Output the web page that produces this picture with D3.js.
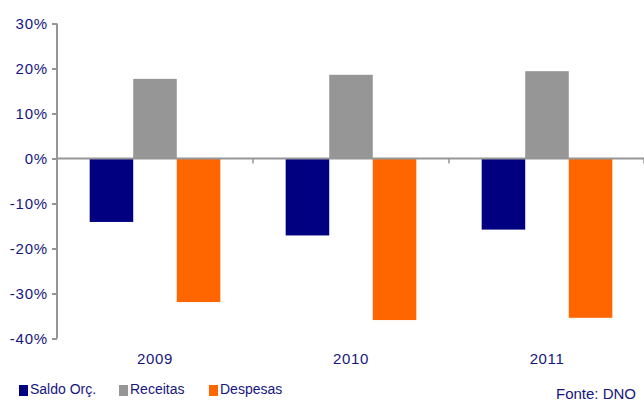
<!DOCTYPE html>
<html>
<head>
<meta charset="utf-8">
<script src="https://cdn.jsdelivr.net/npm/d3@7"></script>
<style>
  html, body { margin: 0; padding: 0; background: #fff; }
  svg { display: block; }
  text { font-family: "Liberation Sans", Arial, sans-serif; fill: #16167e; }
</style>
</head>
<body>
<svg id="chart" width="644" height="403"></svg>
<script>
// Budget balance, revenue and expenditure (year-on-year change)
const years = ["2009", "2010", "2011"];
const seriesNames = ["Saldo Orç.", "Receitas", "Despesas"];
const seriesColors = ["#000080", "#969696", "#FF6600"];
const saldo = [-0.141, -0.171, -0.158];
const receitas = [0.177, 0.186, 0.194];
const despesas = [-0.319, -0.359, -0.354];
const yTicks = [0.3, 0.2, 0.1, 0, -0.1, -0.2, -0.3, -0.4];
const source = "Fonte: DNO";

const seriesValues = [saldo, receitas, despesas];

const svg = d3.select("#chart");

const x = d3.scaleBand().domain(years).range([57, 645]).padding(0);
const xs = d3.scaleBand().domain(seriesNames).range([0, x.bandwidth()])
  .paddingInner(0).paddingOuter(0.75);
const y = d3.scaleLinear().domain([-0.4, 0.3]).range([338.5, 23.5]);

// bars
seriesNames.forEach((name, si) => {
  svg.append("g")
    .selectAll("rect")
    .data(years.map((yr, i) => ({ yr, v: seriesValues[si][i] })))
    .join("rect")
    .attr("x", d => x(d.yr) + xs(name))
    .attr("width", xs.bandwidth())
    .attr("y", d => y(Math.max(0, d.v)))
    .attr("height", d => Math.abs(y(d.v) - y(0)))
    .attr("fill", seriesColors[si]);
});

// value axis
const yAxis = svg.append("g")
  .attr("transform", "translate(57,0)")
  .call(d3.axisLeft(y).tickValues(yTicks).tickSize(5).tickPadding(4)
    .tickFormat(d => Math.round(d * 100) + "%"));
yAxis.selectAll("path, line").attr("stroke", "#969696").attr("stroke-width", 2);
yAxis.select(".domain").attr("d", `M0,${y(0.3)}V${y(-0.4)}`);
yAxis.selectAll("line").attr("x1", 0).attr("x2", -5);
yAxis.selectAll("text")
  .attr("font-size", "15px")
  .attr("letter-spacing", "0.8px")
  .style("fill", "#16167e");

// zero line with category separators
svg.append("line")
  .attr("x1", 57).attr("x2", 645)
  .attr("y1", y(0)).attr("y2", y(0))
  .attr("stroke", "#969696").attr("stroke-width", 2);
svg.append("g").selectAll("line")
  .data(years.slice(1).map(yr => x(yr)).concat([x(years[2]) + x.bandwidth() - 1]))
  .join("line")
  .attr("x1", d => d).attr("x2", d => d)
  .attr("y1", y(0)).attr("y2", y(0) + 5)
  .attr("stroke", "#969696").attr("stroke-width", 1.5);

// category labels
svg.append("g").selectAll("text")
  .data(years)
  .join("text")
  .attr("x", d => x(d) + x.bandwidth() / 2)
  .attr("y", 364)
  .attr("text-anchor", "middle")
  .attr("font-size", "15px")
  .attr("letter-spacing", "0.6px")
  .text(d => d);

// legend
const legendX = [19, 119, 209];
const legend = svg.append("g").selectAll("g")
  .data(seriesNames)
  .join("g")
  .attr("transform", (d, i) => `translate(${legendX[i]},0)`);
legend.append("rect")
  .attr("x", 0).attr("y", 385).attr("width", 9).attr("height", 11)
  .attr("fill", (d, i) => seriesColors[i]);
legend.append("text")
  .attr("x", 11).attr("y", 394)
  .attr("font-size", "14px")
  .text(d => d);

// source note
svg.append("text")
  .attr("x", 636).attr("y", 399)
  .attr("text-anchor", "end")
  .attr("font-size", "15px")
  .text(source);
</script>
</body>
</html>
